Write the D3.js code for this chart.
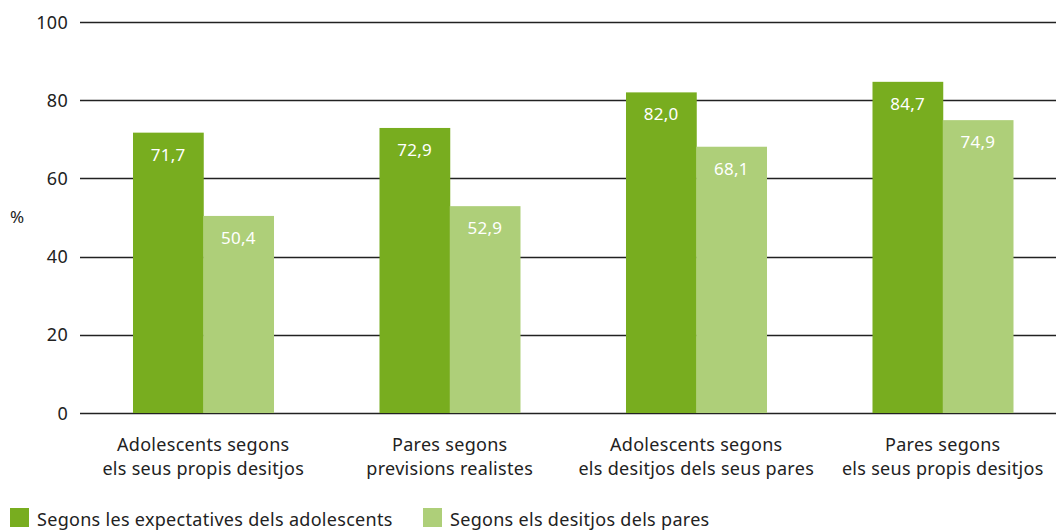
<!DOCTYPE html>
<html>
<head>
<meta charset="utf-8">
<script src="https://cdn.jsdelivr.net/npm/d3@7"></script>
<style>
  body { margin: 0; background: #fff; }
  svg { display: block; font-family: "Noto Sans", sans-serif; }
</style>
</head>
<body>
<svg id="chart" width="1056" height="531"></svg>
<script>
"use strict"

// Categories (two-line labels)
const categories = [
	["Adolescents segons", "els seus propis desitjos"],
	["Pares segons", "previsions realistes"],
	["Adolescents segons", "els desitjos dels seus pares"],
	["Pares segons", "els seus propis desitjos"]
]
const seriesNames = ["Segons les expectatives dels adolescents", "Segons els desitjos dels pares"]
const expectatives = [71.7, 72.9, 82.0, 84.7]
const desitjosPares = [50.4, 52.9, 68.1, 74.9]
const yTicks = [0, 20, 40, 60, 80, 100]

const colors = ["#78ad1f", "#aecf79"]

const svg = d3.select("#chart")
const margins = { left: 80, right: 0, top: 22, bottom: 118 }
const width = 1056

// Scales
const x0 = d3.scaleBand()
	.domain(d3.range(categories.length))
	.range([margins.left, 1066])
	.paddingInner(0.43)
	.paddingOuter(0.215)

const x1 = d3.scaleBand()
	.domain([0, 1])
	.range([0, x0.bandwidth()])

const y = d3.scaleLinear()
	.domain([0, 100])
	.range([413, 22])

// Grid lines
svg.append("g")
	.selectAll("line")
	.data(yTicks)
	.join("line")
	.attr("x1", margins.left)
	.attr("x2", width)
	.attr("y1", d => Math.round(y(d)) + 0.5)
	.attr("y2", d => Math.round(y(d)) + 0.5)
	.attr("stroke", "#222")
	.attr("stroke-width", 1.3)

// Y tick labels
svg.append("g")
	.selectAll("text")
	.data(yTicks)
	.join("text")
	.attr("x", 68)
	.attr("y", d => y(d) + 6.5)
	.attr("text-anchor", "end")
	.attr("font-size", 18)
	.attr("letter-spacing", 0.3)
	.attr("fill", "#222")
	.text(d => d)

svg.append("text")
	.attr("x", 10)
	.attr("y", 223)
	.attr("font-size", 17)
	.attr("fill", "#222")
	.text("%")

// Bars
const rows = categories.map((c, i) => ({ i, values: [expectatives[i], desitjosPares[i]] }))

const group = svg.append("g")
	.selectAll("g")
	.data(rows)
	.join("g")
	.attr("transform", d => "translate(" + x0(d.i) + ",0)")

group.selectAll("rect")
	.data(d => d.values.map((v, s) => ({ v, s })))
	.join("rect")
	.attr("x", d => x1(d.s))
	.attr("y", d => y(d.v))
	.attr("width", x1.bandwidth() + 0.5)
	.attr("height", d => y(0) - y(d.v))
	.attr("fill", d => colors[d.s])

group.selectAll("text")
	.data(d => d.values.map((v, s) => ({ v, s })))
	.join("text")
	.attr("x", d => x1(d.s) + x1.bandwidth() / 2)
	.attr("y", d => y(d.v) + 28)
	.attr("text-anchor", "middle")
	.attr("font-size", 17)
	.attr("letter-spacing", 0.2)
	.attr("fill", "#fff")
	.text(d => d3.format(".1f")(d.v).replace(".", ","))

// Category labels
const catLabels = svg.append("g")
	.selectAll("text")
	.data(categories)
	.join("text")
	.attr("x", (d, i) => x0(i) + x0.bandwidth() / 2)
	.attr("y", 451)
	.attr("text-anchor", "middle")
	.attr("font-size", 18)
	.attr("letter-spacing", 0.3)
	.attr("fill", "#222")

catLabels.selectAll("tspan")
	.data(d => d)
	.join("tspan")
	.attr("x", function() { return d3.select(this.parentNode).attr("x") })
	.attr("dy", (d, i) => i === 0 ? 0 : 24)
	.text(d => d)

// Legend
const legendX = [10, 423]
const legend = svg.append("g")
	.selectAll("g")
	.data(seriesNames)
	.join("g")
	.attr("transform", (d, i) => "translate(" + legendX[i] + ",508)")

legend.append("rect")
	.attr("width", 19)
	.attr("height", 19)
	.attr("fill", (d, i) => colors[i])

legend.append("text")
	.attr("x", 27)
	.attr("y", 18)
	.attr("font-size", 18)
	.attr("letter-spacing", 0.3)
	.attr("fill", "#222")
	.text(d => d)
</script>
</body>
</html>
